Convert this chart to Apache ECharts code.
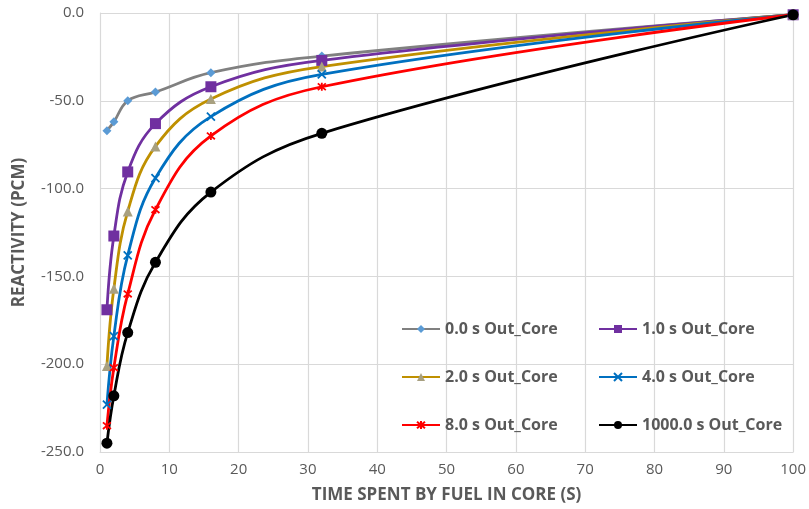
<!DOCTYPE html>
<html>
<head>
<meta charset="utf-8">
<script src="https://cdn.jsdelivr.net/npm/echarts@6/dist/echarts.min.js"></script>
<style>
html, body { margin: 0; padding: 0; background: #fff; }
#main { width: 809px; height: 509px; }
</style>
</head>
<body>
<div id="main"></div>
<script>
var timeInCore = [1, 2, 4, 8, 16, 32, 100];

var names = ['0.0 s Out_Core', '1.0 s Out_Core', '2.0 s Out_Core',
    '4.0 s Out_Core', '8.0 s Out_Core', '1000.0 s Out_Core'];

var out0 = [-67, -62, -50, -45, -34, -24.5, -1];
var out1 = [-169, -127, -90.5, -63, -42, -27, -1];
var out2 = [-201, -157, -113, -76, -49, -30.5, -1];
var out4 = [-223, -184, -138, -94, -59, -35, -1];
var out8 = [-235, -202, -160, -112, -70, -42, -1];
var out1000 = [-245, -218, -182, -142, -102, -68.5, -1];

var yTicks = [-250, -200, -150, -100, -50, 0];

var myChart = echarts.init(document.querySelector('#main'));

var crossPath = 'path://M0,0L10,10M10,0L0,10';
var starPath = 'path://M0,0L10,10M10,0L0,10M5,-1L5,11';

function pairs(ys) {
    return ys.map(function (y, i) { return [timeInCore[i], y]; });
}

function makeSeries(name, ys, lineColor, symbol, size, markColor, border) {
    return {
        name: name,
        type: 'line',
        data: pairs(ys),
        smooth: 0.4,
        symbol: symbol,
        symbolSize: size,
        showAllSymbol: true,
        lineStyle: { color: lineColor, width: 2.8 },
        itemStyle: {
            color: markColor,
            borderColor: border ? markColor : undefined,
            borderWidth: border ? 1.8 : 0,
        },
        emphasis: { disabled: true },
    };
}

var series = [
    makeSeries(names[0], out0, '#808080', 'diamond', 9, '#5B9BD5'),
    makeSeries(names[1], out1, '#7030A0', 'rect', 11, '#7030A0'),
    makeSeries(names[2], out2, '#BF9000', 'triangle', 10, '#A8A080'),
    makeSeries(names[3], out4, '#0070C0', crossPath, 8, '#0070C0', true),
    makeSeries(names[4], out8, '#FF0000', starPath, 8, '#FF0000', true),
    makeSeries(names[5], out1000, '#000000', 'circle', 11, '#000000'),
];

var legendText = {
    color: '#595959',
    fontSize: 16,
    fontWeight: 'bold',
    fontFamily: 'Open Sans',
};

var titleText = { color: '#595959', fontSize: 17, fontWeight: 'bold', fontFamily: 'Open Sans' };
var tickText = { color: '#595959', fontSize: 15, fontFamily: 'Open Sans' };

var option = {
    backgroundColor: '#ffffff',
    animation: false,
    grid: { left: 100, right: 14, top: 13, bottom: 54 },
    legend: [
        {
            data: [names[0], names[2], names[4]],
            orient: 'vertical',
            left: 396,
            top: 316,
            itemWidth: 38,
            itemHeight: 10,
            itemGap: 32,
            textStyle: legendText,
            selectedMode: false,
        },
        {
            data: [names[1], names[3], names[5]],
            orient: 'vertical',
            left: 593,
            top: 316,
            itemWidth: 38,
            itemHeight: 10,
            itemGap: 32,
            textStyle: legendText,
            selectedMode: false,
        },
    ],
    xAxis: {
        type: 'value',
        min: 0,
        max: 100,
        interval: 10,
        name: 'TIME SPENT BY FUEL IN CORE (S)',
        nameLocation: 'middle',
        nameGap: 35,
        nameTextStyle: titleText,
        axisLine: { show: true, onZero: false, lineStyle: { color: '#D9D9D9' } },
        axisTick: { show: false },
        axisLabel: Object.assign({ margin: 10 }, tickText),
        splitLine: { show: true, lineStyle: { color: '#D9D9D9', width: 1.2 } },
    },
    yAxis: {
        type: 'value',
        min: yTicks[0],
        max: yTicks[yTicks.length - 1],
        interval: 50,
        name: 'REACTIVITY (PCM)',
        nameLocation: 'middle',
        nameGap: 72,
        nameTextStyle: titleText,
        axisLine: { show: true, lineStyle: { color: '#D9D9D9' } },
        axisTick: { show: false },
        axisLabel: Object.assign({
            margin: 16,
            formatter: function (v) { return v.toFixed(1); },
        }, tickText),
        splitLine: { show: true, lineStyle: { color: '#D9D9D9', width: 1.2 } },
    },
    series: series,
};

myChart.setOption(option);
</script>
</body>
</html>
